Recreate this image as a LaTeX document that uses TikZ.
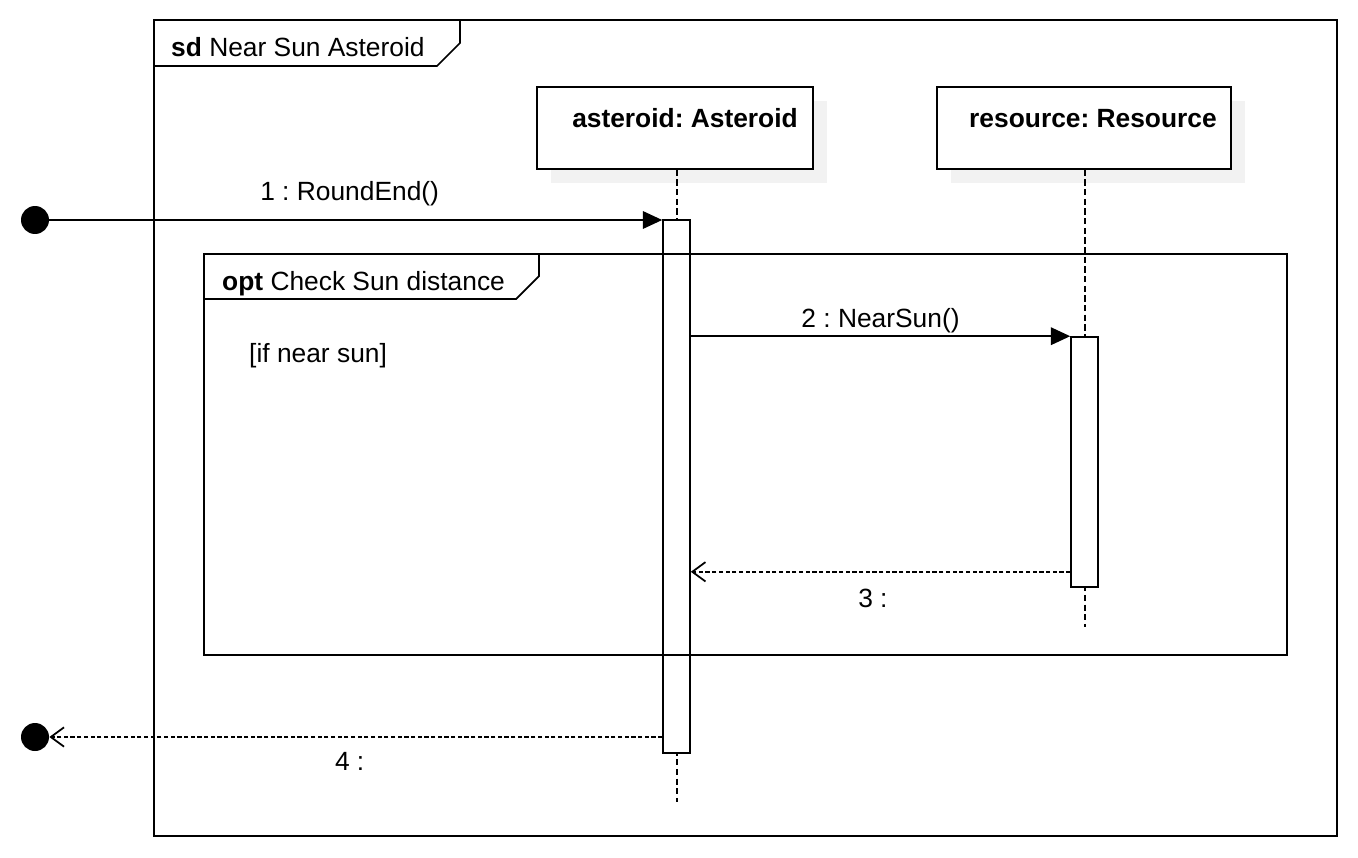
\documentclass[tikz,border=0pt]{standalone}
\usepackage{fontspec}
\setmainfont{Liberation Sans}
\frenchspacing
\usetikzlibrary{arrows.meta,fit,shadows,calc}
\tikzset{
  frame/.style = {draw, line width=1pt, inner sep=0pt},
  tab/.style = {line width=1pt},
  headbox/.style = {draw, line width=.9pt, fill=white, inner sep=0pt,
    drop shadow={shadow xshift=.28cm, shadow yshift=-.28cm, fill=black!5, opacity=1}},
  act/.style = {draw, line width=.9pt, fill=white, inner sep=0pt},
  lifeline/.style = {line width=.8pt, dash pattern=on 3.5pt off 2pt},
  call/.style = {line width=.9pt, -{Triangle[length=11pt,width=10pt]}},
  reply/.style = {line width=1pt, dash pattern=on 2.4pt off 1.4pt, -{Straight Barb[length=7.5pt,width=11pt]}},
  dot/.style = {circle, fill, inner sep=0pt, minimum size=.56cm},
  msglabel/.style = {inner sep=0pt},
}
\begin{document}
\begin{tikzpicture}[x=0.02cm, y=-0.02cm, font=\fontsize{15}{18}\selectfont]
\useasboundingbox (0,0) rectangle (1358,858);
\node[frame, fit={(154,20) (1337,836)}] (sd) {};
\draw[tab] (154,66) -- (437,66) -- (460,43) -- (460,20);
\node[anchor=base west] (sdname) at (165,57) {\textbf{sd} Near Sun Asteroid};
%
%
\node[headbox, fit={(537,87) (813,169)}] (ast) {};
\node[anchor=base] (astname) at (685,128) {\textbf{asteroid: Asteroid}};
\node[headbox, fit={(937,87) (1231,169)}] (res) {};
\node[anchor=base] (resname) at (1093,128) {\textbf{resource: Resource}};
\coordinate (astend) at (677,802);
\coordinate (resend) at (1085,627);
\draw[lifeline] (ast.south -| astend) -- (astend);
\draw[lifeline] (res.south -| resend) -- (resend);
\node[act, fit={(663,220) (690,753)}] (act1) {};
\node[act, fit={(1071,337) (1098,587)}] (act2) {};
%
%
\node[frame, fit={(204,254) (1287,655)}] (opt) {};
\draw[tab] (204,299) -- (516,299) -- (539,276) -- (539,254);
\node[anchor=base west] (optname) at (216,290) {\textbf{opt} Check Sun distance};
\node[anchor=base west] (guard) at (243,362) {[if near sun]};
%
%
\node[dot] (src) at (35,220) {};
\node[dot] (snk) at (35,737) {};
\draw[call] (src) -- (src -| act1.west) node[msglabel, pos=.49, above=7.6pt] (m1) {1 : RoundEnd()};
\coordinate (c2) at (act1.east |- act2.north);
\draw[call] (c2) -- (c2 -| act2.west) node[msglabel, midway, above=1.5pt] (m2) {2 : NearSun()};
\coordinate (r3) at ($(act2.south west)+(0,-16)$);
\draw[reply] (r3) -- (act1.east |- r3) node[msglabel, pos=.52, below=9.6pt] (m3) {3 :};
\coordinate (r4) at (act1.west |- snk);
\draw[reply] (r4) -- (snk.east) node[msglabel, pos=.51, below=8.5pt] (m4) {4 :};
%
%
\end{tikzpicture}
\end{document}
